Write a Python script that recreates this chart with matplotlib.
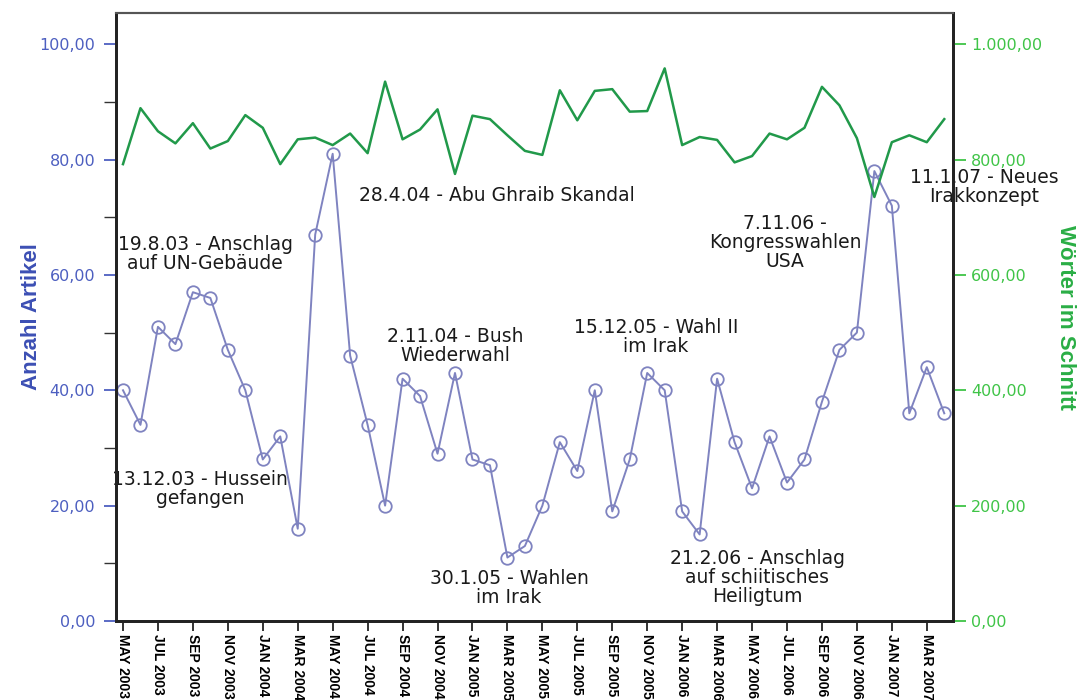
import numpy as np
import matplotlib
matplotlib.use("Agg")
import matplotlib.pyplot as plt
import matplotlib.ticker as tkr
from matplotlib import font_manager

# monthly data, May 2003 - April 2007 (48 months)
tick_labels = ["MAY 2003", "JUL 2003", "SEP 2003", "NOV 2003",
               "JAN 2004", "MAR 2004", "MAY 2004", "JUL 2004", "SEP 2004", "NOV 2004",
               "JAN 2005", "MAR 2005", "MAY 2005", "JUL 2005", "SEP 2005", "NOV 2005",
               "JAN 2006", "MAR 2006", "MAY 2006", "JUL 2006", "SEP 2006", "NOV 2006",
               "JAN 2007", "MAR 2007"]

articles = [40, 34, 51, 48, 57, 56, 47, 40, 28, 32, 16, 67,
            81, 46, 34, 20, 42, 39, 29, 43, 28, 27, 11, 13,
            20, 31, 26, 40, 19, 28, 43, 40, 19, 15, 42, 31,
            23, 32, 24, 28, 38, 47, 50, 78, 72, 36, 44, 36]

words = [792, 889, 849, 828, 863, 819, 832, 877, 855, 792, 835, 838,
         825, 845, 811, 935, 835, 852, 887, 775, 876, 870, 842, 815,
         808, 920, 868, 919, 922, 883, 884, 958, 825, 839, 834, 795,
         806, 845, 835, 855, 926, 894, 837, 735, 830, 842, 830, 870]

events = [
    ("19.8.03 - Anschlag\nauf UN-Gebäude", 4.7, 63.6),
    ("13.12.03 - Hussein\ngefangen", 4.4, 22.9),
    ("28.4.04 - Abu Ghraib Skandal", 21.4, 73.8),
    ("2.11.04 - Bush\nWiederwahl", 19.0, 47.7),
    ("30.1.05 - Wahlen\nim Irak", 22.1, 5.7),
    ("15.12.05 - Wahl II\nim Irak", 30.5, 49.2),
    ("21.2.06 - Anschlag\nauf schiitisches\nHeiligtum", 36.3, 7.5),
    ("7.11.06 -\nKongresswahlen\nUSA", 37.9, 65.7),
    ("11.1.07 - Neues\nIrakkonzept", 49.3, 75.2),
]

BLUE_LINE = "#7f83c0"
BLUE_TXT = "#4d5fc0"
BLUE_LAB = "#3c4fb4"
GREEN_LINE = "#21994a"
GREEN_TXT = "#3fc447"
GREEN_LAB = "#2aae45"

installed = {f.name for f in font_manager.fontManager.ttflist}
if "Liberation Sans Narrow" in installed:
    NARROW, LAB_SIZE, TICK_SIZE = "Liberation Sans Narrow", 20, 11
else:
    NARROW, LAB_SIZE, TICK_SIZE = "Liberation Sans", 16, 10


def de_fmt(v, pos):
    s = f"{v:,.2f}"
    return s.replace(",", "X").replace(".", ",").replace("X", ".")


fig = plt.figure(figsize=(10.78, 7.0), dpi=100)
ax = fig.add_axes([116/1078, 1-621/700, (953-116)/1078, (621-13)/700])
ax2 = ax.twinx()

x = np.arange(len(articles))
ax.plot(x, articles, color=BLUE_LINE, lw=1.4, marker="o", ms=9,
        mfc="none", mec=BLUE_LINE, mew=1.3)
ax2.plot(x, words, color=GREEN_LINE, lw=1.8)

ax.set_xlim(-0.4, 47.5)
ax.set_ylim(0, 105.4)
ax2.set_ylim(0, 1054)

# left axis
ax.yaxis.set_major_locator(tkr.MultipleLocator(20))
ax.yaxis.set_minor_locator(tkr.MultipleLocator(10))
ax.yaxis.set_major_formatter(tkr.FuncFormatter(de_fmt))
ax.tick_params(axis="y", which="major", direction="out", length=9, width=1.3,
               color=BLUE_TXT, labelcolor=BLUE_TXT, labelsize=11.5, pad=6)
ax.tick_params(axis="y", which="minor", direction="out", length=9, width=1.0, color="#333333")
ax.set_ylabel("Anzahl Artikel", color=BLUE_LAB, fontsize=LAB_SIZE, fontweight="bold",
              family=NARROW, labelpad=-2)

# right axis
ax2.yaxis.set_major_locator(tkr.MultipleLocator(200))
ax2.yaxis.set_major_formatter(tkr.FuncFormatter(de_fmt))
ax2.tick_params(axis="y", which="major", direction="out", length=9, width=1.3,
                color=GREEN_TXT, labelcolor=GREEN_TXT, labelsize=11.5, pad=4)
ax2.set_ylabel("Wörter im Schnitt", color=GREEN_LAB, fontsize=LAB_SIZE, fontweight="bold",
               family=NARROW, rotation=270, labelpad=24)

# x axis
ax.set_xticks(x[::2])
ax.set_xticklabels(tick_labels, rotation=270, family=NARROW, fontweight="bold",
                   fontsize=TICK_SIZE, va="top", ha="center")
ax.tick_params(axis="x", direction="out", length=7, width=1.3, color="#222222", pad=2)

for a in (ax, ax2):
    for side in ("left", "right", "bottom"):
        a.spines[side].set_color("#222222")
        a.spines[side].set_linewidth(2)
    a.spines["top"].set_color("#555555")
    a.spines["top"].set_linewidth(1.5)

for label, ex, ey in events:
    ax.text(ex, ey, label, ha="center", va="center", multialignment="center",
            fontsize=13.5, color="#1a1a1a", linespacing=1.0, clip_on=False, zorder=5)

fig.savefig("out.png", dpi=100)
